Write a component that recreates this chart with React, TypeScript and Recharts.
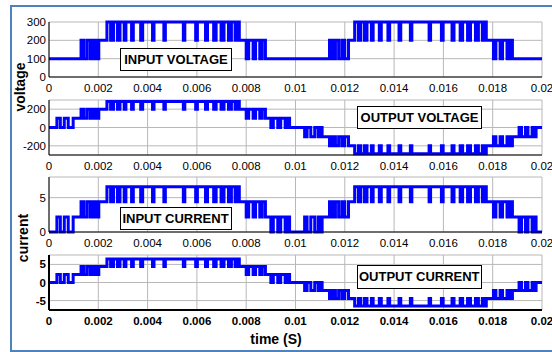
import React from "react";
import { LineChart, Line, XAxis, YAxis, CartesianGrid } from "recharts";

// switching instants (ms) and the inverter level (-3..3) reached at each one
const switchTimes = [
  0,
  0.32, 0.46, 0.62, 0.78, 0.98,
  1.3, 1.42, 1.55, 1.68, 1.8, 1.92, 2.02,
  2.35, 2.5, 2.62, 2.78, 2.88, 3.05, 3.12, 3.35, 3.42, 3.72, 3.8, 4.2, 4.26, 4.66, 4.72,
  5.45, 5.51, 5.95, 6.02, 6.35, 6.43, 6.68, 6.78, 6.98, 7.1, 7.28, 7.4, 7.55, 7.65, 7.72,
  8.0, 8.1, 8.28, 8.38, 8.55, 8.65, 8.78,
  9.0, 9.1, 9.28, 9.4, 9.58, 9.66, 9.76,
  10.37, 10.47, 10.62, 10.78, 10.92, 11.02, 11.08,
  11.38, 11.5, 11.62, 11.75, 11.88, 12.0, 12.15,
  12.4, 12.55, 12.65, 12.8, 12.9, 13.08, 13.15, 13.4, 13.48, 13.75, 13.82, 14.2, 14.27, 14.66, 14.72,
  15.42, 15.48, 15.92, 15.99, 16.35, 16.43, 16.68, 16.78, 16.98, 17.1, 17.3, 17.42, 17.58, 17.68, 17.74,
  18.03, 18.13, 18.3, 18.4, 18.58, 18.68, 18.8,
  19.07, 19.17, 19.33, 19.43, 19.6, 19.68, 19.76,
  20,
];
const switchLevels = [
  0,
  1, 0, 1, 0, 1,
  2, 1, 2, 1, 2, 1, 2,
  3, 2, 3, 2, 3, 2, 3, 2, 3, 2, 3, 2, 3, 2, 3,
  2, 3, 2, 3, 2, 3, 2, 3, 2, 3, 2, 3, 2, 3, 2,
  1, 2, 1, 2, 1, 2, 1,
  0, 1, 0, 1, 0, 1, 0,
  -1, 0, -1, 0, -1, 0, -1,
  -2, -1, -2, -1, -2, -1, -2,
  -3, -2, -3, -2, -3, -2, -3, -2, -3, -2, -3, -2, -3, -2, -3,
  -2, -3, -2, -3, -2, -3, -2, -3, -2, -3, -2, -3, -2, -3, -2,
  -1, -2, -1, -2, -1, -2, -1,
  0, -1, 0, -1, 0, -1, 0,
  0,
];

// value shown in each panel for a given level
const inputVoltageByLevel = { "-3": 300, "-2": 200, "-1": 100, "0": 100, "1": 100, "2": 200, "3": 300 };
const outputVoltageByLevel = { "-3": -285, "-2": -200, "-1": -100, "0": 0, "1": 100, "2": 200, "3": 285 };
const inputCurrentByLevel = { "-3": 6.6, "-2": 4.4, "-1": 2.2, "0": 0, "1": 2.2, "2": 4.4, "3": 6.6 };
const outputCurrentByLevel = { "-3": -6.5, "-2": -4.4, "-1": -2.2, "0": 0, "1": 2.2, "2": 4.4, "3": 6.5 };

const timeTicks = [0, 2, 4, 6, 8, 10, 12, 14, 16, 18, 20];
const timeTickLabels = ["0", "0.002", "0.004", "0.006", "0.008", "0.01", "0.012", "0.014", "0.016", "0.018", "0.02"];

const data = switchTimes.map((t, i) => {
  const l = String(switchLevels[i]);
  return {
    t,
    vin: inputVoltageByLevel[l],
    vout: outputVoltageByLevel[l],
    iin: inputCurrentByLevel[l],
    iout: outputCurrentByLevel[l],
  };
});

const FONT = "'Liberation Sans', Arial, sans-serif";
const PLOT_H = 55;

function Panel({ top, dataKey, domain, ticks, bold }) {
  const tickStyle = { fontSize: 11.5, fill: "#000", fontFamily: FONT, fontWeight: bold ? "bold" : "normal" };
  const border = { stroke: "#000", strokeWidth: bold ? 2 : 1 };
  return (
    <div style={{ position: "absolute", left: 0, top: top - 5 }}>
      <LineChart width={552} height={5 + PLOT_H + 25} data={data} margin={{ top: 5, right: 10, bottom: 0, left: 0 }}>
        <CartesianGrid stroke="#b8b8b8" strokeWidth={1} />
        <XAxis
          dataKey="t"
          type="number"
          domain={[0, 20]}
          ticks={timeTicks}
          tickFormatter={(v) => timeTickLabels[timeTicks.indexOf(v)]}
          tick={tickStyle}
          tickLine={false}
          tickSize={5}
          tickMargin={2}
          height={25}
          axisLine={border}
          interval={0}
        />
        <XAxis xAxisId="top" orientation="top" type="number" domain={[0, 20]} height={0} tick={false} tickLine={false} axisLine={border} />
        <YAxis
          type="number"
          domain={domain}
          ticks={ticks}
          tick={tickStyle}
          tickLine={false}
          tickSize={1}
          tickMargin={2}
          width={49}
          axisLine={border}
          interval={0}
        />
        <YAxis yAxisId="right" orientation="right" type="number" domain={domain} width={0} tick={false} tickLine={false} axisLine={border} />
        <Line
          type="stepAfter"
          dataKey={dataKey}
          stroke="#0000ff"
          strokeWidth={3}
          dot={false}
          isAnimationActive={false}
        />
      </LineChart>
    </div>
  );
}

function Note({ left, top, width, height, text }) {
  return (
    <div
      style={{
        position: "absolute",
        left,
        top,
        width,
        height,
        boxSizing: "border-box",
        border: "1px solid #000",
        background: "#fff",
        fontFamily: FONT,
        fontWeight: "bold",
        fontSize: 13,
        display: "flex",
        alignItems: "center",
        justifyContent: "center",
        color: "#000",
      }}
    >
      {text}
    </div>
  );
}

function AxisTitle({ cx, cy, text }) {
  return (
    <div
      style={{
        position: "absolute",
        left: cx - 40,
        top: cy - 10,
        width: 80,
        height: 20,
        lineHeight: "20px",
        textAlign: "center",
        fontFamily: FONT,
        fontWeight: "bold",
        fontSize: 14,
        color: "#000",
        transform: "rotate(-90deg)",
      }}
    >
      {text}
    </div>
  );
}

export default function App() {
  return (
    <div style={{ position: "absolute", left: 0, top: 0, width: 552, height: 352, overflow: "hidden", background: "#fff" }}>
      <div
        style={{
          position: "absolute",
          left: 10,
          top: 5,
          width: 560,
          height: 347,
          boxSizing: "border-box",
          border: "2px solid #4f81bd",
        }}
      />
      <Panel top={21.5} dataKey="vin" domain={[0, 300]} ticks={[0, 100, 200, 300]} />
      <Panel top={99.7} dataKey="vout" domain={[-300, 300]} ticks={[-200, 0, 200]} />
      <Panel top={176.7} dataKey="iin" domain={[0, 8]} ticks={[0, 5]} />
      <Panel top={255} dataKey="iout" domain={[-7.6, 7.6]} ticks={[-5, 0, 5]} bold />

      <Note left={120} top={47.5} width={112} height={23.5} text="INPUT VOLTAGE" />
      <Note left={357} top={105.5} width={125} height={23.5} text="OUTPUT VOLTAGE" />
      <Note left={119.5} top={206.5} width={112} height={23.5} text="INPUT CURRENT" />
      <Note left={357} top={264.5} width={124.5} height={24} text="OUTPUT CURRENT" />

      <AxisTitle cx={20} cy={87} text="voltage" />
      <AxisTitle cx={23} cy={238} text="current" />
      <div
        style={{
          position: "absolute",
          left: 226,
          top: 331,
          width: 100,
          textAlign: "center",
          fontFamily: FONT,
          fontWeight: "bold",
          fontSize: 14,
          color: "#000",
        }}
      >
        time (S)
      </div>
    </div>
  );
}
